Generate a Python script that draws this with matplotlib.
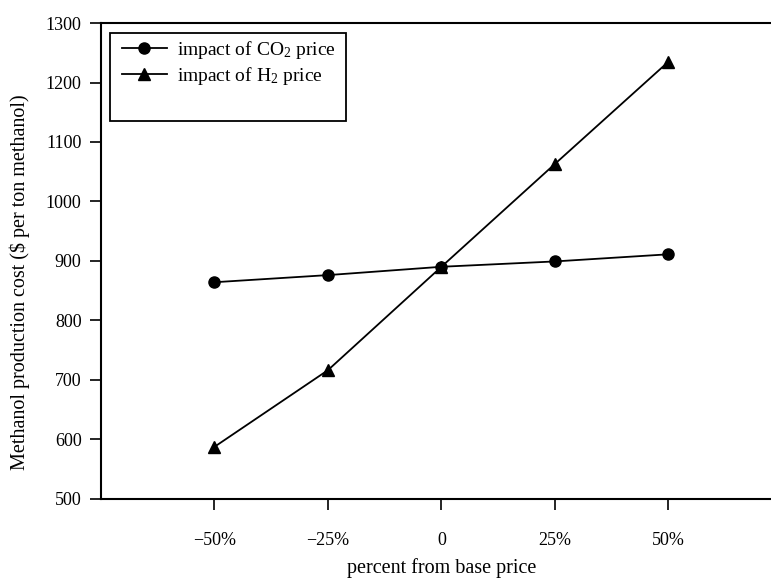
import matplotlib
matplotlib.use("Agg")
import matplotlib.pyplot as plt
from matplotlib.patches import Rectangle

plt.rcParams['font.family'] = ['Liberation Serif', 'DejaVu Serif']
plt.rcParams['mathtext.fontset'] = 'custom'
plt.rcParams['mathtext.rm'] = 'Liberation Serif'
plt.rcParams['mathtext.it'] = 'Liberation Serif:italic'

# data
pct = [-50, -25, 0, 25, 50]
tick_labels = ['\u221250%', '\u221225%', '0', '25%', '50%']
co2_cost = [864, 876, 890, 899, 911]
h2_cost = [587, 716, 890, 1063, 1235]

fig = plt.figure(figsize=(7.71, 5.79), dpi=100)
ax = fig.add_axes([0.131, 0.139, 0.883, 0.821])

ax.plot(pct, co2_cost, color='black', lw=1.3, marker='o', ms=8,
        label='impact of CO$_2$ price')
ax.plot(pct, h2_cost, color='black', lw=1.3, marker='^', ms=8.5,
        label='impact of H$_2$ price')

ax.set_xlim(-75, 75)
ax.set_ylim(500, 1300)
ax.set_xticks(pct)
ax.set_xticklabels(tick_labels)
ax.set_yticks(range(500, 1301, 100))
ax.tick_params(direction='out', length=8, width=1.2, labelsize=13, pad=6)
ax.tick_params(axis='x', pad=16)
for s in ax.spines.values():
    s.set_linewidth(1.5)

ax.set_xlabel('percent from base price', fontsize=14.5, labelpad=7)
ax.set_ylabel('Methanol production cost ($ per ton methanol)', fontsize=14.5)
ax.yaxis.set_label_coords(-0.104, 0.455)

# legend box drawn separately so it keeps the taller frame of the original
ax.add_patch(Rectangle((0.0134, 0.795), 0.346, 0.184, transform=ax.transAxes,
                       fill=False, edgecolor='black', lw=1.3, zorder=5))
leg = ax.legend(loc='upper left', bbox_to_anchor=(0.0224, 0.979), fontsize=14,
                frameon=False, handlelength=2.3, borderaxespad=0,
                borderpad=0.3, labelspacing=0.2, handletextpad=0.5)

fig.savefig('out.png', dpi=100)
